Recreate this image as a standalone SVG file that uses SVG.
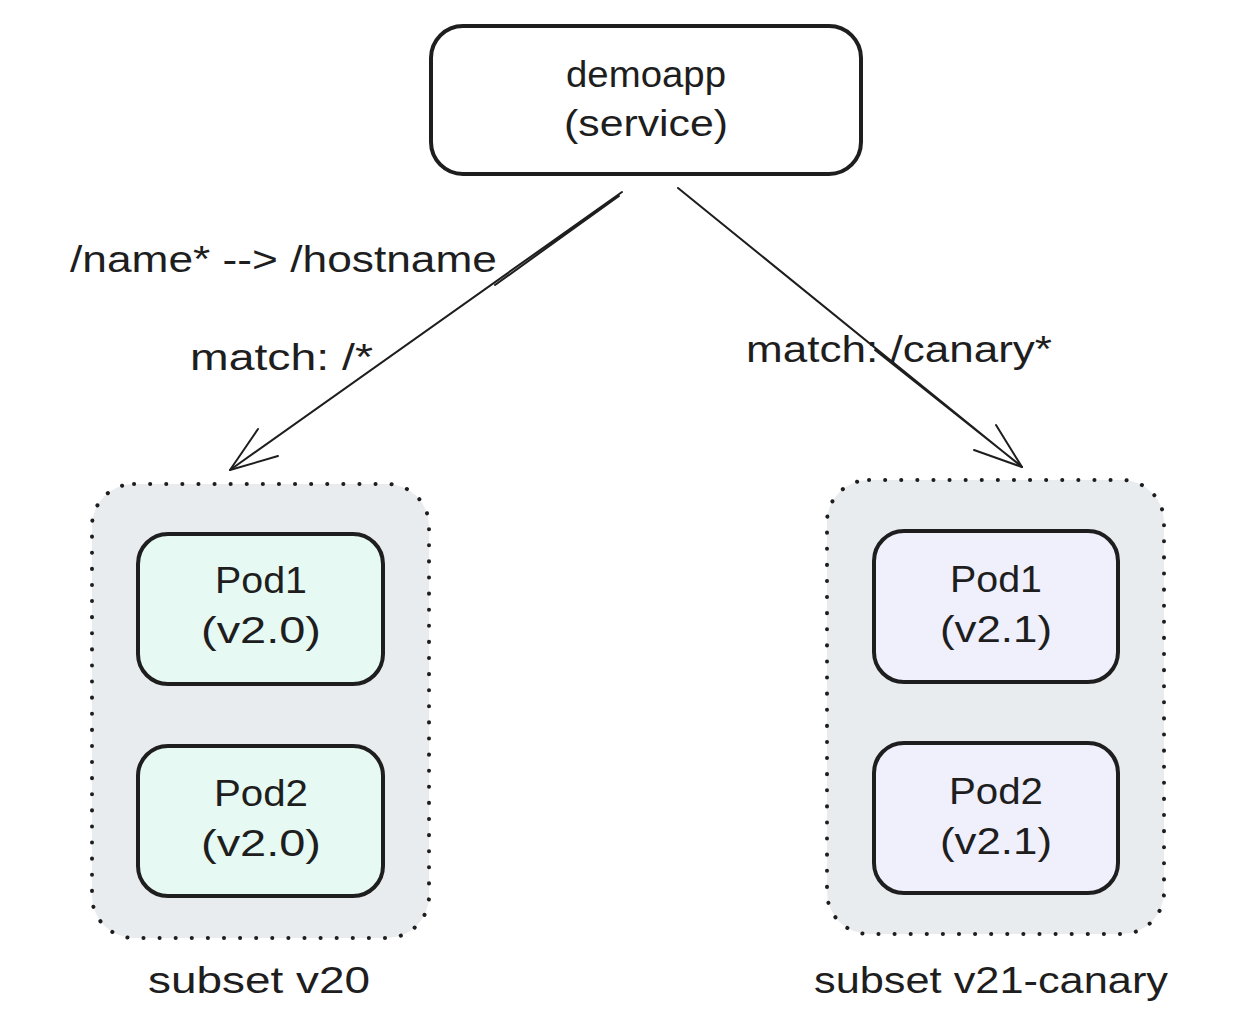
<svg xmlns="http://www.w3.org/2000/svg" width="1242" height="1022" viewBox="0 0 1242 1022">
<style>
.t{font-family:"Liberation Sans","Noto Sans",sans-serif;fill:#1e1e1e;font-size:36px}
.c{text-anchor:middle}
.box{stroke:#1e1e1e;stroke-width:4;}
.sub{fill:#e9ecef;stroke:#1e1e1e;stroke-width:4;stroke-dasharray:0.1 16;stroke-linecap:round}
.ln{fill:none;stroke:#1e1e1e;stroke-width:2;stroke-linecap:round;stroke-linejoin:round}
</style>
<rect width="1242" height="1022" fill="#ffffff"/>
<g id="service">
<rect class="box" x="431" y="26" width="430" height="148" rx="32" fill="#ffffff"/>
<text class="t c" x="646" y="87" textLength="160" lengthAdjust="spacingAndGlyphs">demoapp</text>
<text class="t c" x="646" y="136" textLength="164" lengthAdjust="spacingAndGlyphs">(service)</text>
</g>
<g id="subset-v20">
<rect class="sub" x="92" y="484" width="337" height="454" rx="42"/>
<text class="t c" x="259" y="993" textLength="222" lengthAdjust="spacingAndGlyphs">subset v20</text>
</g>
<g id="subset-v21">
<rect class="sub" x="827" y="480" width="337" height="454" rx="42"/>
<text class="t c" x="991" y="993" textLength="354" lengthAdjust="spacingAndGlyphs">subset v21-canary</text>
</g>
<g id="pod1-v20">
<rect class="box" x="138" y="534" width="245" height="150" rx="30" fill="#e6f9f2"/>
<text class="t c" x="261" y="593" textLength="92" lengthAdjust="spacingAndGlyphs">Pod1</text>
<text class="t c" x="261" y="643" textLength="120" lengthAdjust="spacingAndGlyphs">(v2.0)</text>
</g>
<g id="pod2-v20">
<rect class="box" x="138" y="746" width="245" height="150" rx="30" fill="#e6f9f2"/>
<text class="t c" x="261" y="806" textLength="94" lengthAdjust="spacingAndGlyphs">Pod2</text>
<text class="t c" x="261" y="856" textLength="120" lengthAdjust="spacingAndGlyphs">(v2.0)</text>
</g>
<g id="pod1-v21">
<rect class="box" x="874" y="531" width="244" height="151" rx="30" fill="#f0effc"/>
<text class="t c" x="996" y="592" textLength="92" lengthAdjust="spacingAndGlyphs">Pod1</text>
<text class="t c" x="996" y="642" textLength="112" lengthAdjust="spacingAndGlyphs">(v2.1)</text>
</g>
<g id="pod2-v21">
<rect class="box" x="874" y="743" width="244" height="150" rx="30" fill="#f0effc"/>
<text class="t c" x="996" y="804" textLength="94" lengthAdjust="spacingAndGlyphs">Pod2</text>
<text class="t c" x="996" y="854" textLength="112" lengthAdjust="spacingAndGlyphs">(v2.1)</text>
</g>
<g id="connectors">
<path class="ln" d="M622 192 L230 470 M619 196 L495 285"/>
<path class="ln" d="M230 470 L258 429 M230 470 L278 456"/>
<path class="ln" d="M678 188 L1022 467 M875 350 L1020 465"/>
<path class="ln" d="M1022 467 L996 425 M1022 467 L974 450"/>
<text class="t" x="70" y="272" textLength="427" lengthAdjust="spacingAndGlyphs">/name* --&gt; /hostname</text>
<text class="t" x="190" y="370" textLength="183" lengthAdjust="spacingAndGlyphs">match: /*</text>
<text class="t" x="746" y="362" textLength="306" lengthAdjust="spacingAndGlyphs">match: /canary*</text>
</g>
</svg>
